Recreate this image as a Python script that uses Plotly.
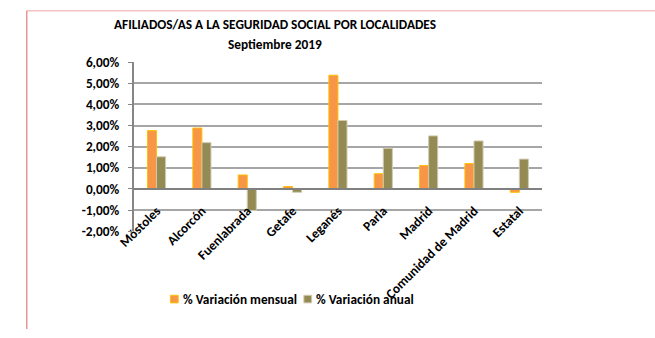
import plotly.graph_objects as go

W, H = 655, 338

localidades = ["Móstoles", "Alcorcón", "Fuenlabrada", "Getafe", "Leganés",
               "Parla", "Madrid", "Comunidad de Madrid", "Estatal"]
var_mensual = [0.0276, 0.0288, 0.0066, 0.0011, 0.0538, 0.0072, 0.0111, 0.0120, -0.0016]
var_anual = [0.0152, 0.0219, -0.0102, -0.0016, 0.0324, 0.0192, 0.0251, 0.0227, 0.0141]

y_ticks = [-0.02, -0.01, 0.0, 0.01, 0.02, 0.03, 0.04, 0.05, 0.06]
y_labels = ["-2,00%", "-1,00%", "0,00%", "1,00%", "2,00%", "3,00%", "4,00%", "5,00%", "6,00%"]

series_names = ["% Variación mensual", "% Variación anual"]
series_colors = ["#F79646", "#948A54"]
series_edges = ["#FFC000", "#D0CBB0"]

FONT = "Carlito, Lato, sans-serif"
BOLD = dict(family=FONT, color="#000000", weight="bold")

# plot area in pixels
px_left, px_right, px_top, px_bottom = 120, 539, 57, 235
x_dom = [px_left / W, px_right / W]
y_dom = [(H - px_bottom) / H, (H - px_top) / H]
y_min, y_max = -0.02, 0.06
zero_paper = y_dom[0] + (0 - y_min) / (y_max - y_min) * (y_dom[1] - y_dom[0])

fig = go.Figure()
for name, vals, col, edge in zip(series_names, [var_mensual, var_anual],
                                 series_colors, series_edges):
    fig.add_trace(go.Bar(
        x=localidades, y=vals, name=name,
        marker=dict(color=col, line=dict(color=edge, width=1)),
    ))


def px(x, y):
    return x / W, (H - y) / H


annotations = [
    dict(text="AFILIADOS/AS A LA SEGURIDAD SOCIAL POR LOCALIDADES",
         x=px(265, 17)[0], y=px(265, 17)[1], xref="paper", yref="paper",
         showarrow=False, xanchor="center", yanchor="middle",
         font=dict(BOLD, size=13.3)),
    dict(text="Septiembre 2019",
         x=px(265, 38)[0], y=px(265, 38)[1], xref="paper", yref="paper",
         showarrow=False, xanchor="center", yanchor="middle",
         font=dict(BOLD, size=13.3)),
]

shapes = [
    dict(type="line", xref="paper", yref="paper",
         x0=10 / W, x1=1, y0=(H - 3) / H, y1=(H - 3) / H,
         line=dict(color="#F2C4C4", width=1.5)),
    dict(type="line", xref="paper", yref="paper",
         x0=10 / W, x1=10 / W, y0=0, y1=(H - 3) / H,
         line=dict(color="#E89696", width=1.5)),
]

# legend: small square swatch followed by the series name
legend_y = 306.5
for sx, name, col, edge in zip([157.5, 294.5], series_names, series_colors, series_edges):
    x0, y0 = px(sx, legend_y - 4)
    x1, y1 = px(sx + 8, legend_y + 4)
    shapes.append(dict(type="rect", xref="paper", yref="paper",
                       x0=x0, x1=x1, y0=y1, y1=y0,
                       fillcolor=col, line=dict(color=edge, width=1)))
    tx, ty = px(sx + 10.5, legend_y)
    annotations.append(dict(text=name, x=tx, y=ty, xref="paper", yref="paper",
                            showarrow=False, xanchor="left", yanchor="middle",
                            font=dict(BOLD, size=13.3)))

fig.update_layout(
    width=W, height=H,
    margin=dict(l=0, r=0, t=0, b=0),
    paper_bgcolor="white", plot_bgcolor="white",
    barmode="group", bargap=0.6, bargroupgap=0,
    font=dict(family=FONT, color="#000000"),
    showlegend=False,
    xaxis=dict(
        domain=x_dom, anchor="free", position=zero_paper,
        showline=True, linecolor="#808080", linewidth=2,
        showgrid=False, ticks="", tickangle=-45, ticklabelstandoff=8,
        tickfont=dict(BOLD, size=13.3),
        fixedrange=True,
    ),
    yaxis=dict(
        domain=y_dom, range=[y_min, y_max],
        tickvals=y_ticks, ticktext=y_labels,
        showgrid=True, gridcolor="#A6A6A6", gridwidth=1.5,
        zeroline=False,
        showline=True, linecolor="#868686", linewidth=2,
        ticks="outside", ticklen=4, tickcolor="#868686", tickwidth=1,
        ticklabelstandoff=6,
        tickfont=dict(BOLD, size=13.3),
        fixedrange=True,
    ),
    annotations=annotations,
    shapes=shapes,
)

# place the figure flush with the page edges
fig.write_html(
    "out.html",
    config={"displayModeBar": False},
    post_script="document.body.style.margin='0';document.body.style.overflow='hidden';",
)
